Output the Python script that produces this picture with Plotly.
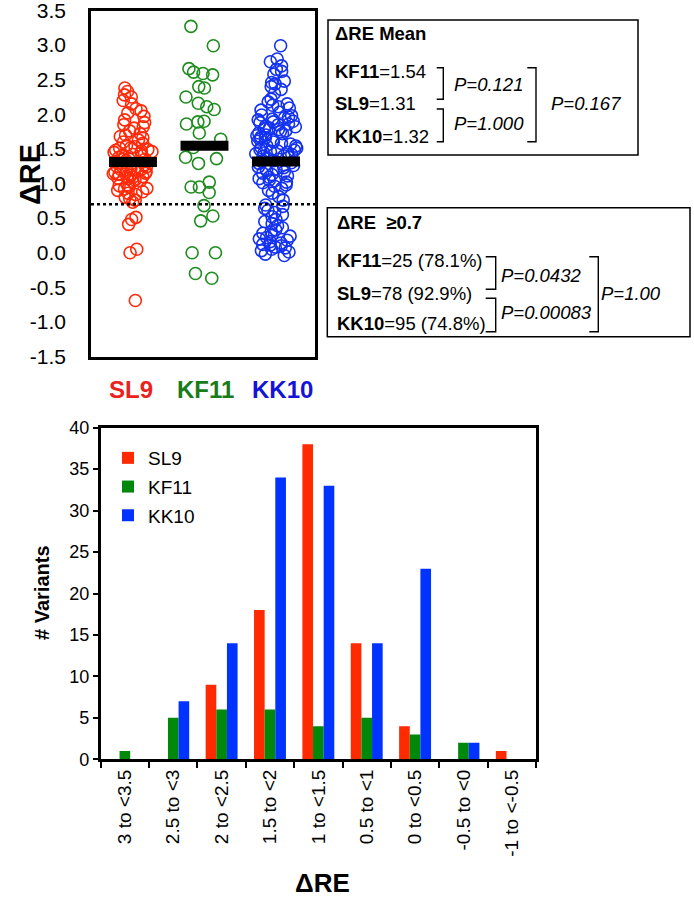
import plotly.graph_objects as go
import numpy as np

W, H = 694, 898
def px(x):
    return x / W
def py(y):
    return 1 - y / H

# ---------------- data ----------------
groups = ["SL9", "KF11", "KK10"]
group_pos = [1, 2, 3]

sl9_re = [2.38, 2.33, 2.28, 2.25, 2.20, 2.15, 2.08, 2.05, 2.02,
          1.97, 1.92, 1.88, 1.85, 1.82, 1.80, 1.76, 1.72, 1.70, 1.68, 1.66, 1.63, 1.60, 1.58, 1.55, 1.53, 1.52, 1.51,
          1.49, 1.48, 1.47, 1.46, 1.45, 1.44, 1.42, 1.41, 1.40, 1.38, 1.36, 1.35, 1.33, 1.32, 1.30, 1.29, 1.27, 1.25,
          1.24, 1.22, 1.20, 1.19, 1.17, 1.16, 1.15, 1.13, 1.12, 1.10, 1.09, 1.08, 1.07, 1.05, 1.04, 1.03, 1.20, 1.21,
          1.10, 1.14,
          0.98, 0.97, 0.95, 0.93, 0.92, 0.90, 0.88, 0.86, 0.84, 0.80, 0.78, 0.76, 0.73, 0.51,
          0.48, 0.41, 0.05, 0.00,
          -0.69]

kf11_re = [3.27, 2.99, 2.66, 2.59, 2.57, 2.61, 2.38, 2.40, 2.16, 2.25, 2.11, 2.07,
           1.89, 1.90, 1.86, 1.73, 1.64, 1.52, 1.38, 1.36, 1.29, 1.02,
           0.95, 0.95, 0.87, 0.68, 0.53, 0.46, 0.00, 0.00, -0.30, -0.37]

kk10_re = [2.99, 2.80, 2.76, 2.70, 2.65, 2.62, 2.58,
           2.48, 2.46, 2.44, 2.40, 2.36, 2.30, 2.22, 2.18, 2.15, 2.13, 2.11, 2.09, 2.06, 2.03,
           1.99, 1.98, 1.96, 1.95, 1.93, 1.92, 1.90, 1.89, 1.88, 1.86, 1.85, 1.83, 1.82, 1.80, 1.79, 1.78,
           1.76, 1.75, 1.73, 1.72, 1.70, 1.69, 1.67, 1.66, 1.64, 1.63, 1.61, 1.60, 1.58, 1.57, 1.55, 1.54,
           1.52, 1.51,
           1.49, 1.48, 1.47, 1.46, 1.45, 1.44, 1.43, 1.42, 1.40, 1.39, 1.38, 1.36, 1.35, 1.33, 1.32, 1.30,
           1.29, 1.27, 1.26, 1.24, 1.23, 1.21, 1.19, 1.17, 1.15, 1.13, 1.11, 1.09, 1.07, 1.05, 1.04, 1.02, 1.01,
           0.98, 0.96, 0.93, 0.90, 0.86, 0.81, 0.76,
           0.69, 0.67, 0.64, 0.61, 0.58, 0.55, 0.52,
           0.48, 0.45, 0.42, 0.39, 0.36, 0.33, 0.30, 0.28, 0.26, 0.24, 0.22, 0.20, 0.18, 0.16, 0.14, 0.12,
           0.11, 0.10, 0.08, 0.07, 0.05, 0.03, 0.01,
           -0.02, -0.04]

threshold = 0.7
top_tick_vals = [-1.5, -1.0, -0.5, 0.0, 0.5, 1.0, 1.5, 2.0, 2.5, 3.0, 3.5]
top_tick_text = ["-1.5", "-1.0", "-0.5", "0.0", "0.5", "1.0", "1.5", "2.0", "2.5", "3.0", "3.5"]

bin_labels = ["3 to <3.5", "2.5 to <3", "2 to <2.5", "1.5 to <2", "1 to <1.5",
              "0.5 to <1", "0 to <0.5", "-0.5 to <0", "-1 to <-0.5"]
sl9_counts = [0, 0, 9, 18, 38, 14, 4, 0, 1]
kf11_counts = [1, 5, 6, 6, 4, 5, 3, 2, 0]
kk10_counts = [0, 7, 14, 34, 33, 14, 23, 2, 0]

# ---------------- styles ----------------
FONT = "Liberation Sans, Arial, sans-serif"
pt_colors = ["#FF2A0A", "#1E8C1E", "#1432F0"]
bar_colors = ["#FF2A00", "#00880A", "#0033FF"]
lab_colors = ["#E8221C", "#187C18", "#1414D8"]

fig = go.Figure()

# top: dot plot
for name, vals, pos, col in zip(groups, [sl9_re, kf11_re, kk10_re], group_pos, pt_colors):
    fig.add_trace(go.Box(
        y=vals, x0=pos, boxpoints="all", jitter=1.0, pointpos=0, width=0.62,
        fillcolor="rgba(0,0,0,0)", line=dict(width=0), whiskerwidth=0,
        marker=dict(symbol="circle-open", size=12, color=col, line=dict(width=1.6)),
        showlegend=False, hoverinfo="y", xaxis="x", yaxis="y", name=name))
for vals, pos in zip([sl9_re, kf11_re, kk10_re], group_pos):
    m = float(np.mean(vals))
    fig.add_trace(go.Scatter(x=[pos - 0.335, pos + 0.335], y=[m, m], mode="lines",
                             line=dict(color="black", width=10), showlegend=False,
                             hoverinfo="skip", xaxis="x", yaxis="y"))

# bottom: histogram bars
for i, (name, counts, col) in enumerate(zip(groups, [sl9_counts, kf11_counts, kk10_counts], bar_colors)):
    fig.add_trace(go.Bar(x=bin_labels, y=counts, name=name, marker=dict(color=col, line=dict(width=0)),
                         xaxis="x2", yaxis="y2", legendgroup=name))

axis_line = dict(showline=True, linecolor="black", linewidth=2.6, mirror=True,
                 showgrid=False, zeroline=False, automargin=False)

fig.update_layout(
    width=W, height=H,
    margin=dict(l=0, r=0, t=0, b=0, pad=0, autoexpand=False),
    paper_bgcolor="white", plot_bgcolor="white",
    font=dict(family=FONT, color="black"),
    barmode="group", bargap=0.34, bargroupgap=0,
    showlegend=True,
    legend=dict(x=px(108), y=py(439), xanchor="left", yanchor="top",
                font=dict(size=19, family=FONT), bgcolor="rgba(0,0,0,0)",
                tracegroupgap=1, itemwidth=30),
    xaxis=dict(domain=[px(91), px(315)], range=[0.413, 3.545], type="linear",
               showticklabels=False, ticks="", anchor="y", **axis_line),
    yaxis=dict(domain=[py(356.5), py(10.5)], range=[-1.5, 3.5],
               tickvals=top_tick_vals, ticktext=top_tick_text, ticks="", ticklabelstandoff=18,
               ticklabeloverflow="allow",
               tickfont=dict(size=21), anchor="x", **axis_line),
    xaxis2=dict(domain=[px(100.7), px(536)], type="category", tickson="boundaries",
                ticks="outside", ticklen=6, tickwidth=2.4, tickcolor="black",
                tickangle=-90, tickfont=dict(size=19), anchor="y2", **axis_line),
    yaxis2=dict(domain=[py(759.3), py(427.7)], range=[0, 40], dtick=5,
                ticks="outside", ticklen=5, tickwidth=2.2, tickcolor="black",
                tickfont=dict(size=18), anchor="x2", **axis_line),
)

shapes = []
# threshold dotted line
shapes.append(dict(type="line", xref="x domain", yref="y", x0=0, x1=1, y0=threshold, y1=threshold,
                   line=dict(color="black", width=2.6, dash="dot")))
# info boxes
shapes.append(dict(type="rect", xref="paper", yref="paper", x0=px(328), x1=px(638), y0=py(155), y1=py(20),
                   line=dict(color="black", width=1.5)))
shapes.append(dict(type="rect", xref="paper", yref="paper", x0=px(327.3), x1=px(690), y0=py(336.7), y1=py(207.7),
                   line=dict(color="black", width=1.5)))

def bracket(x0, x1, ytop, ybot):
    return dict(type="path", xref="paper", yref="paper",
                path=f"M {px(x0)} {py(ytop)} L {px(x1)} {py(ytop)} L {px(x1)} {py(ybot)} L {px(x0)} {py(ybot)}",
                line=dict(color="black", width=1.4))

shapes += [bracket(436.7, 443.3, 67.7, 99.3), bracket(436.7, 443.3, 109, 141.7),
           bracket(527.3, 536, 67.7, 141.7),
           bracket(485.7, 495.7, 256.7, 289.3), bracket(485.7, 495.7, 298.3, 331.7),
           bracket(589.3, 598.3, 256.7, 331.7)]
fig.update_layout(shapes=shapes)

ann = []
def text(x, y, s, size=18.5, anchor="left", color="black", angle=0, yanchor="middle"):
    ann.append(dict(x=px(x), y=py(y), xref="paper", yref="paper", text=s, showarrow=False,
                    xanchor=anchor, yanchor=yanchor, textangle=angle, borderpad=0,
                    font=dict(size=size, color=color, family=FONT)))

# box 1
text(334, 33, "<b>ΔRE Mean</b>")
text(334, 71, "<b>KF11</b>=1.54")
text(334, 104, "<b>SL9</b>=1.31")
text(334, 137, "<b>KK10</b>=1.32")
text(453, 85, "<i>P=0.121</i>")
text(453, 124, "<i>P=1.000</i>")
text(550, 104, "<i>P=0.167</i>")
# box 2
text(335.5, 222, "<b>ΔRE\u00a0\u00a0≥0.7</b>")
text(335.5, 261, "<b>KF11</b>=25 (78.1%)")
text(335.5, 294, "<b>SL9</b>=78 (92.9%)")
text(335.5, 323, "<b>KK10</b>=95 (74.8%)")
text(500, 275, "<i>P=0.0432</i>")
text(500, 312, "<i>P=0.00083</i>")
text(599.5, 294, "<i>P=1.00</i>")

# group labels under dot plot
for name, xc, col in zip(groups, [131, 205, 282], lab_colors):
    text(xc, 389, f"<b>{name}</b>", size=24, anchor="center", color=col)

# axis titles
text(30, 175, "<b>ΔRE</b>", size=29, anchor="center", angle=-90)
text(42, 593, "<b># Variants</b>", size=20, anchor="center", angle=-90)
text(322, 883, "<b>ΔRE</b>", size=26, anchor="center")

fig.update_layout(annotations=ann)

fig.write_html("out.html", config={"displayModeBar": False},
               post_script="document.body.style.margin='0';document.body.style.padding='0';")
